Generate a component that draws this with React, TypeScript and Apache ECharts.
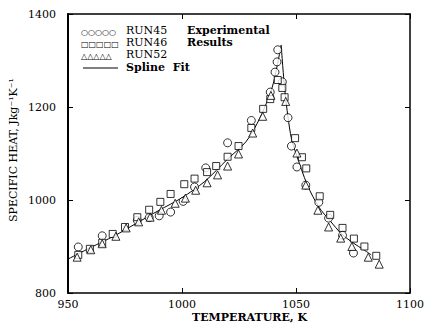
import React, { useEffect, useRef } from "react";
import * as echarts from "echarts";

const xTicks = [950, 1000, 1050, 1100];
const yTicks = [800, 1000, 1200, 1400];

const run45: [number, number][] = [
  [954.5, 899], [965, 923], [980.4, 956], [985.6, 962], [990, 966], [995, 974],
  [1000.5, 997], [1005.5, 1028], [1010.4, 1069], [1020, 1123], [1030.4, 1171],
  [1038.7, 1232], [1040.8, 1275], [1041.7, 1297], [1042, 1323], [1044, 1254],
  [1046.5, 1177], [1048, 1116], [1050.4, 1071], [1054.3, 1032], [1060, 995],
  [1064.3, 961], [1070.4, 924], [1075.2, 886],
];
const run46: [number, number][] = [
  [954.5, 882], [959.6, 895], [965, 908], [969.6, 927], [975, 942], [980.4, 963],
  [985.6, 979], [990.5, 996], [995, 1013], [1001, 1034], [1005.5, 1046], [1011, 1060],
  [1015, 1073], [1020, 1093], [1024.8, 1116], [1030.4, 1155], [1035.6, 1196],
  [1038.7, 1217], [1042, 1258], [1044, 1241], [1045, 1221], [1049.6, 1133],
  [1052.6, 1092], [1054.5, 1068], [1060.4, 1008], [1065, 968], [1070.4, 940],
  [1075.4, 917], [1080, 900], [1085.2, 880],
];
const run52: [number, number][] = [
  [954, 877], [960, 893], [965, 906], [971, 922], [975.5, 940], [981, 953],
  [986, 963], [991, 978], [997, 993], [1001.5, 1004], [1006, 1021], [1011, 1037],
  [1015.6, 1054], [1020, 1073], [1024.8, 1099], [1031, 1144], [1035.4, 1180],
  [1039, 1225], [1045.5, 1212], [1050.4, 1101], [1054.3, 1032], [1059.6, 978],
  [1064.3, 942], [1069.6, 918], [1074.5, 900], [1081.7, 877], [1086.5, 862],
];
const splineLeft: [number, number][] = [
  [950, 873], [960, 898], [970, 922], [980, 950], [990, 978], [1000, 1005],
  [1010, 1040], [1020, 1088], [1028, 1125], [1033, 1165], [1037, 1208],
  [1040, 1250], [1043.5, 1333],
];
const splineRight: [number, number][] = [
  [1043.5, 1333], [1045, 1240], [1046.5, 1178], [1048, 1132], [1050, 1100],
  [1055, 1032], [1060, 985], [1065, 955], [1070, 927], [1075, 908],
  [1080, 892], [1083, 882],
];

const FONT = "DejaVu Serif";

export default function App() {
  const ref = useRef<HTMLDivElement>(null);
  useEffect(() => {
    if (!ref.current) return;
    const chart = echarts.init(ref.current, null, { renderer: "svg" });
    const axisCommon = {
      axisLine: { show: true, lineStyle: { color: "#000", width: 1.5 } },
      axisTick: { show: true, inside: true, length: 5, lineStyle: { color: "#000" } },
      splitLine: { show: false },
    };
    const marker = (symbol: string, size: number) => ({
      type: "scatter" as const,
      symbol,
      symbolSize: size,
      itemStyle: { color: "#fff", borderColor: "#000", borderWidth: 1 },
      z: 3,
    });
    chart.setOption({
      animation: false,
      backgroundColor: "#fff",
      grid: { left: 68, right: 14, top: 14, bottom: 33 },
      xAxis: [
        {
          type: "value", min: 950, max: 1100, interval: 50, position: "bottom",
          ...axisCommon,
          axisLabel: { color: "#000", fontFamily: FONT, fontSize: 11, margin: 6,
            formatter: (v: number) => (xTicks.includes(v) ? String(v) : "") },
        },
        {
          type: "value", min: 950, max: 1100, interval: 50, position: "top",
          ...axisCommon, axisLabel: { show: false },
        },
      ],
      yAxis: [
        {
          type: "value", min: 800, max: 1400, interval: 200, position: "left",
          ...axisCommon,
          axisLine: { show: true, lineStyle: { color: "#000", width: 2 } },
          axisLabel: { color: "#000", fontFamily: FONT, fontSize: 11, margin: 12,
            formatter: (v: number) => (yTicks.includes(v) ? String(v) : "") },
        },
        {
          type: "value", min: 800, max: 1400, interval: 200, position: "right",
          ...axisCommon, axisLabel: { show: false },
        },
      ],
      graphic: [
        { type: "text", left: 192, top: 312, style: { text: "TEMPERATURE, K", font: `bold 11px "${FONT}"`, fill: "#000" } },
        { type: "text", x: 13, y: 150, rotation: Math.PI / 2, style: { text: "SPECIFIC HEAT, Jkg⁻¹K⁻¹", font: `11px "${FONT}"`, fill: "#000", align: "center", verticalAlign: "middle" } },
        { type: "text", left: 81, top: 28, style: { text: "○○○○○", font: `8px "DejaVu Sans"`, fill: "#000" } },
        { type: "text", left: 81, top: 40, style: { text: "□□□□□", font: `8px "DejaVu Sans"`, fill: "#000" } },
        { type: "text", left: 81, top: 52, style: { text: "△△△△△", font: `8px "DejaVu Sans"`, fill: "#000" } },
        { type: "line", shape: { x1: 83, y1: 68, x2: 118, y2: 68 }, style: { stroke: "#000", lineWidth: 1 } },
        { type: "text", left: 126, top: 25, style: { text: "RUN45", font: `11px "${FONT}"`, fill: "#000" } },
        { type: "text", left: 126, top: 37, style: { text: "RUN46", font: `11px "${FONT}"`, fill: "#000" } },
        { type: "text", left: 126, top: 49, style: { text: "RUN52", font: `11px "${FONT}"`, fill: "#000" } },
        { type: "text", left: 126, top: 62, style: { text: "Spline  Fit", font: `bold 11px "${FONT}"`, fill: "#000" } },
        { type: "text", left: 187, top: 25, style: { text: "Experimental", font: `bold 11px "${FONT}"`, fill: "#000" } },
        { type: "text", left: 187, top: 37, style: { text: "Results", font: `bold 11px "${FONT}"`, fill: "#000" } },
      ],
      series: [
        { type: "line", data: splineLeft, smooth: 0.3, showSymbol: false, lineStyle: { color: "#000", width: 1 }, z: 2 },
        { type: "line", data: splineRight, smooth: 0.3, showSymbol: false, lineStyle: { color: "#000", width: 1 }, z: 2 },
        { ...marker("circle", 8), name: "RUN45", data: run45 },
        { ...marker("rect", 7), name: "RUN46", data: run46 },
        { ...marker("triangle", 8), name: "RUN52", data: run52 },
      ],
    });
    return () => chart.dispose();
  }, []);
  return <div ref={ref} style={{ width: 427, height: 326, position: "absolute", left: 0, top: 0 }} />;
}
